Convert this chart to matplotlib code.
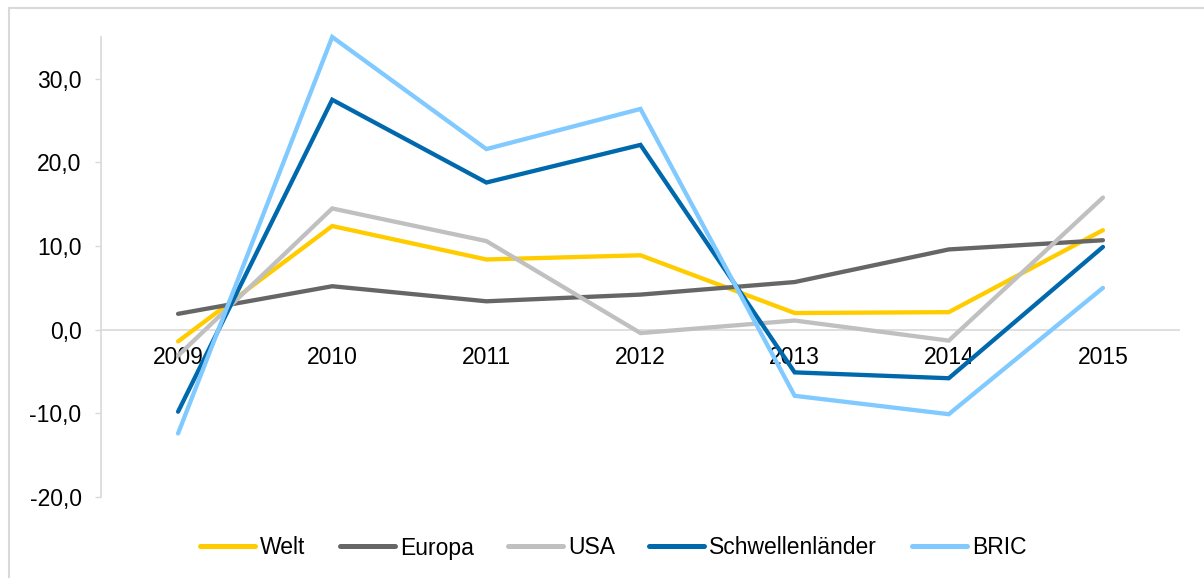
import matplotlib.pyplot as plt
from matplotlib.patches import Rectangle
from matplotlib.ticker import FuncFormatter

plt.rcParams['font.family'] = ['Liberation Sans', 'DejaVu Sans']

years = ['2009', '2010', '2011', '2012', '2013', '2014', '2015']
welt = [-1.4, 12.4, 8.4, 8.9, 2.0, 2.1, 11.9]
europa = [1.9, 5.2, 3.4, 4.2, 5.7, 9.6, 10.7]
usa = [-3.1, 14.5, 10.6, -0.4, 1.1, -1.3, 15.8]
schwellen = [-9.8, 27.5, 17.6, 22.1, -5.1, -5.8, 9.9]
bric = [-12.4, 35.0, 21.6, 26.4, -7.9, -10.1, 5.0]

series = [('Welt', welt, '#FFCC00'),
          ('Europa', europa, '#666666'),
          ('USA', usa, '#C0C0C0'),
          ('Schwellenländer', schwellen, '#0069AD'),
          ('BRIC', bric, '#80CAFF')]

fs = 16.5

fig = plt.figure(figsize=(12.04, 5.78), dpi=100)
ax = fig.add_axes([101/1204, 1-497/578, (1180-101)/1204, (497-37)/578])

x = list(range(len(years)))
for name, vals, col in series:
    ax.plot(x, vals, color=col, lw=3.1, label=name, solid_capstyle='round', solid_joinstyle='miter', clip_on=False)

ax.set_xlim(-0.5, len(years) - 0.5)
ax.set_ylim(-20, 35)
ax.set_yticks([-20, -10, 0, 10, 20, 30])
ax.yaxis.set_major_formatter(FuncFormatter(lambda v, p: ('%.1f' % v).replace('.', ',')))
ax.axhline(0, color='#D9D9D9', lw=1.2, zorder=0)

for s in ['top', 'right']:
    ax.spines[s].set_visible(False)
ax.spines['bottom'].set_position(('data', 0))
ax.spines['bottom'].set_visible(False)
ax.spines['left'].set_color('#D9D9D9')
ax.spines['left'].set_linewidth(1.2)

ax.set_xticks(x)
ax.set_xticklabels(years)
ax.tick_params(axis='x', length=0, pad=12, labelsize=fs)
ax.tick_params(axis='y', length=4, width=1, color='#D9D9D9', pad=10, labelsize=fs, direction='out')

leg = fig.legend(loc='center', bbox_to_anchor=(613/1204, 1-548/578), ncol=5, frameon=False,
                 fontsize=fs, handlelength=2.4, handletextpad=0.22, columnspacing=1.5)
for h in leg.legend_handles:
    h.set_linewidth(3.6)

fig.patches.append(Rectangle((9/1204, -0.1), 1.2, 1-8/578+0.1, transform=fig.transFigure,
                             fill=False, edgecolor='#D9D9D9', lw=1.5))

fig.savefig('out.png', dpi=100, facecolor='white')
